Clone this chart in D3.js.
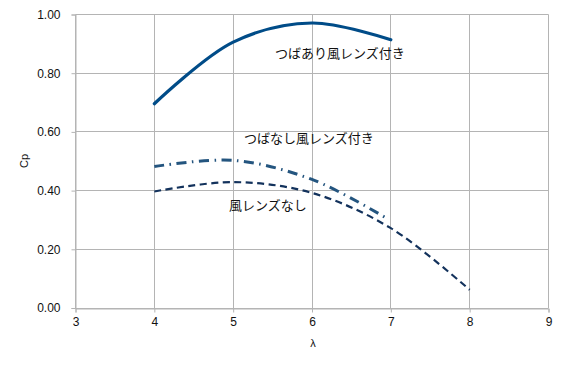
<!DOCTYPE html>
<html>

<head>
  <meta charset="UTF-8" />
  <title>Cp - λ</title>
  <style>
    body {
      margin: 0;
      background: white;
      font-family: "Liberation Sans", Arial, sans-serif;
    }

    .label-jp {
      font-family: "Noto Sans CJK JP", sans-serif;
      font-size: 13px;
    }
  </style>
  <script src="https://d3js.org/d3.v7.min.js"></script>
</head>

<body>
  <script>
    /* data */
    let lambdaBrim = [4, 5, 6, 7];
    let cpBrim = [0.696, 0.906, 0.971, 0.914];

    let lambdaNoBrim = [4, 5, 6, 6.92];
    let cpNoBrim = [0.482, 0.503, 0.438, 0.31];

    let lambdaNoLens = [4, 5, 6, 7, 8];
    let cpNoLens = [0.397, 0.429, 0.392, 0.272, 0.062];

    let xTicks = [3, 4, 5, 6, 7, 8, 9];
    let yTicks = [0, 0.2, 0.4, 0.6, 0.8, 1.0];

    let seriesLabels = ["つばあり風レンズ付き", "つばなし風レンズ付き", "風レンズなし"];

    let margin = { top: 14.5, right: 19.5, bottom: 59, left: 75.5 };
    let width = 568 - margin.left - margin.right;
    let height = 367 - margin.top - margin.bottom;

    let svg = d3.select("body")
      .append("svg")
      .attr("width", 568)
      .attr("height", 367);

    let g = svg.append("g")
      .attr("transform", `translate(${margin.left}, ${margin.top})`);

    let xScale = d3.scaleLinear().domain([3, 9]).range([0, width]);
    let yScale = d3.scaleLinear().domain([0, 1]).range([height, 0]);

    /* grid */
    g.append("g")
      .selectAll("line")
      .data(yTicks)
      .enter()
      .append("line")
      .attr("x1", 0)
      .attr("x2", width)
      .attr("y1", d => Math.round(yScale(d)))
      .attr("y2", d => Math.round(yScale(d)))
      .attr("stroke", "#b4b4b4");
    g.append("g")
      .selectAll("line")
      .data(xTicks)
      .enter()
      .append("line")
      .attr("x1", d => Math.round(xScale(d)))
      .attr("x2", d => Math.round(xScale(d)))
      .attr("y1", 0)
      .attr("y2", height)
      .attr("stroke", "#b4b4b4");

    /* axes */
    let xAxis = g.append("g")
      .attr("transform", `translate(0, ${Math.round(height)})`)
      .call(d3.axisBottom(xScale).tickValues(xTicks).tickSize(4).tickPadding(5).tickFormat(d3.format("d")));
    let yAxis = g.append("g")
      .call(d3.axisLeft(yScale).tickValues(yTicks).tickSize(4).tickPadding(11).tickFormat(d3.format(".2f")));

    [xAxis, yAxis].forEach(ax => {
      ax.select(".domain").attr("stroke", "#b4b4b4");
      ax.selectAll(".tick line").attr("stroke", "#b4b4b4");
      ax.selectAll(".tick text")
        .attr("fill", "#111")
        .style("font-family", "'Liberation Sans', Arial, sans-serif")
        .style("font-size", "12px");
    });

    /* axis titles */
    svg.append("text")
      .attr("transform", "translate(28, 161) rotate(-90)")
      .attr("text-anchor", "middle")
      .style("font-size", "11px")
      .attr("fill", "#111")
      .text("Cp");
    svg.append("text")
      .attr("x", 313)
      .attr("y", 347)
      .attr("text-anchor", "middle")
      .style("font-size", "11px")
      .attr("fill", "#111")
      .text("λ");

    /* lines */
    let line = d3.line()
      .x(d => xScale(d[0]))
      .y(d => yScale(d[1]))
      .curve(d3.curveCatmullRom.alpha(0.5));

    g.append("path")
      .datum(d3.zip(lambdaNoLens, cpNoLens))
      .attr("d", line)
      .attr("fill", "none")
      .attr("stroke", "#13325c")
      .attr("stroke-width", 2.2)
      .attr("stroke-dasharray", "7,4.5");

    g.append("path")
      .datum(d3.zip(lambdaNoBrim, cpNoBrim))
      .attr("d", line)
      .attr("fill", "none")
      .attr("stroke", "#24557f")
      .attr("stroke-width", 3)
      .attr("stroke-dasharray", "10,5.5,1.5,5.5");

    g.append("path")
      .datum(d3.zip(lambdaBrim, cpBrim))
      .attr("d", line)
      .attr("fill", "none")
      .attr("stroke", "#004c88")
      .attr("stroke-width", 3.2)
      .attr("stroke-linecap", "round");

    /* series labels */
    let labelPos = [[275, 58], [244, 143], [229, 210]];
    svg.append("g")
      .selectAll("text")
      .data(seriesLabels)
      .enter()
      .append("text")
      .attr("class", "label-jp")
      .attr("x", (d, i) => labelPos[i][0])
      .attr("y", (d, i) => labelPos[i][1])
      .attr("fill", "#111")
      .text(d => d);
  </script>
</body>

</html>
